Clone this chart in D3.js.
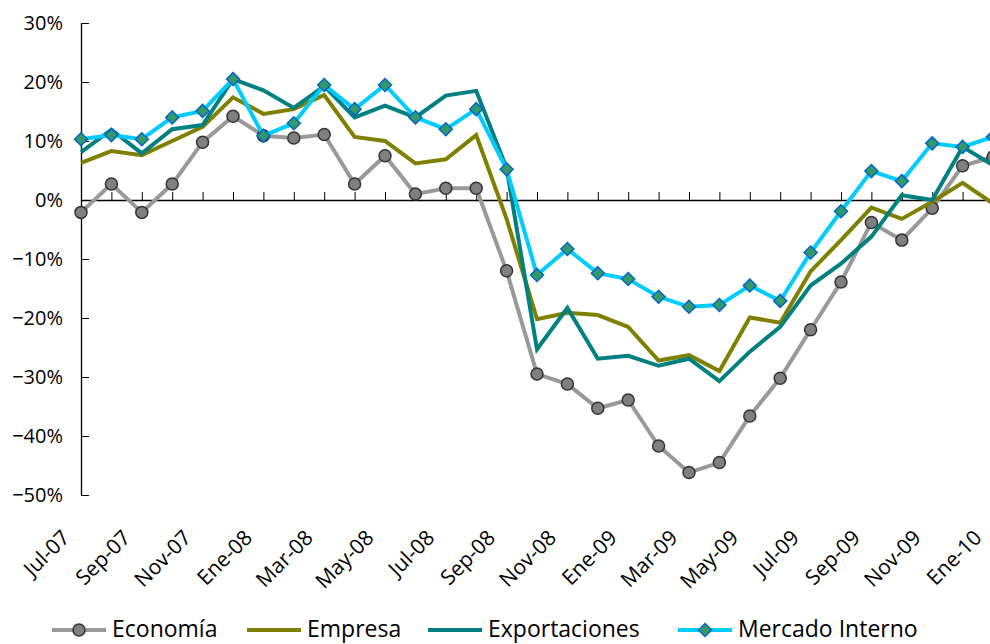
<!DOCTYPE html>
<html>
<head>
<meta charset="utf-8">
<script src="https://cdn.jsdelivr.net/npm/d3@7"></script>
<style>
  body { margin: 0; background: #fff; }
  svg { display: block; font-family: "Open Sans", sans-serif; }
</style>
</head>
<body>
<svg id="chart" width="990" height="644"></svg>
<script>
const months = [
  "Jul-07","Ago-07","Sep-07","Oct-07","Nov-07","Dic-07",
  "Ene-08","Feb-08","Mar-08","Abr-08","May-08","Jun-08",
  "Jul-08","Ago-08","Sep-08","Oct-08","Nov-08","Dic-08",
  "Ene-09","Feb-09","Mar-09","Abr-09","May-09","Jun-09",
  "Jul-09","Ago-09","Sep-09","Oct-09","Nov-09","Dic-09","Ene-10"
];

const economia = [
  -2.1, 2.7, -2.1, 2.7, 9.8, 14.2, 10.9, 10.5, 11.1, 2.7, 7.5, 1.0, 2.0, 2.0, -12.0,
  -29.5, -31.2, -35.3, -33.9, -41.7, -46.2, -44.5, -36.6, -30.2, -22.0, -13.9,
  -3.8, -6.8, -1.4, 5.8, 7.3
];
const empresa = [
  6.3, 8.3, 7.6, 10.0, 12.4, 17.4, 14.6, 15.4, 17.8, 10.7, 10.0, 6.2, 6.9, 11.0, -3.2,
  -20.2, -19.1, -19.5, -21.5, -27.2, -26.3, -29.0, -19.9, -20.8, -12.1, -6.8,
  -1.3, -3.2, -0.3, 2.9, -0.6
];
const exportaciones = [
  8.1, 11.9, 7.9, 12.0, 12.7, 20.5, 18.6, 15.6, 19.3, 14.0, 16.0, 14.0, 17.7, 18.5, 5.4,
  -25.3, -18.3, -26.9, -26.4, -28.1, -26.9, -30.7, -25.7, -21.5, -14.5, -10.8,
  -6.2, 0.8, 0.0, 9.0, 5.9
];
const mercadoInterno = [
  10.3, 11.0, 10.3, 14.0, 15.1, 20.5, 10.9, 13.0, 19.5, 15.4, 19.5, 14.0, 12.0, 15.4, 5.2,
  -12.7, -8.3, -12.4, -13.4, -16.4, -18.1, -17.8, -14.5, -17.1, -8.9, -1.9,
  4.9, 3.2, 9.6, 9.0, 10.7
];

const yTicks = [30, 20, 10, 0, -10, -20, -30, -40, -50];

const series = [
  { name: "Economía", values: economia, color: "#999999", marker: "circle" },
  { name: "Empresa", values: empresa, color: "#808000", marker: null },
  { name: "Exportaciones", values: exportaciones, color: "#008080", marker: null },
  { name: "Mercado Interno", values: mercadoInterno, color: "#00CCFF", marker: "diamond" }
];

const svg = d3.select("#chart");

const x = d3.scalePoint().domain(months).range([81, 993]);
const y = d3.scaleLinear().domain([-50, 30]).range([495, 23]);

const diamondPath = "M0,-6.5L6.5,0L0,6.5L-6.5,0Z";

// y axis, ticks pointing into the plot
const yAxis = svg.append("g")
  .attr("transform", "translate(81,0)")
  .call(d3.axisLeft(y)
    .tickValues(yTicks)
    .tickSizeInner(-8)
    .tickSizeOuter(0)
    .tickPadding(18)
    .tickFormat(d => (d < 0 ? "\u2212" + Math.abs(d) : d) + "%"));
yAxis.select(".domain").attr("stroke", "#000").attr("stroke-width", 1.3);
yAxis.selectAll(".tick line").attr("stroke", "#000");
yAxis.selectAll("text")
  .attr("fill", "#000")
  .style("font-size", "20px")
  .style("font-family", "'Open Sans', sans-serif");

// x axis on the zero line, ticks pointing up
const xAxis = svg.append("g")
  .attr("transform", `translate(0,${y(0)})`)
  .call(d3.axisBottom(x)
    .tickSizeInner(-8)
    .tickSizeOuter(0)
    .tickFormat(""));
xAxis.select(".domain").attr("stroke", "#000").attr("stroke-width", 1.3);
xAxis.selectAll(".tick line").attr("stroke", "#000");

// rotated month labels, every second month
svg.append("g")
  .selectAll("text")
  .data(months.filter((m, i) => i % 2 === 0))
  .join("text")
  .attr("transform", d => `translate(${x(d) - 10},539) rotate(-45)`)
  .attr("text-anchor", "end")
  .style("font-size", "21px")
  .attr("fill", "#000")
  .text(d => d);

// lines
const line = d3.line()
  .x((d, i) => x(months[i]))
  .y(d => y(d));

series.forEach(s => {
  svg.append("path")
    .datum(s.values)
    .attr("fill", "none")
    .attr("stroke", s.color)
    .attr("stroke-width", 4)
    .attr("stroke-linejoin", "miter")
    .attr("d", line);

  if (s.marker === "circle") {
    svg.append("g")
      .selectAll("circle")
      .data(s.values)
      .join("circle")
      .attr("cx", (d, i) => x(months[i]))
      .attr("cy", d => y(d))
      .attr("r", 6)
      .attr("fill", "#808080")
      .attr("stroke", "#333333")
      .attr("stroke-width", 1.5);
  } else if (s.marker === "diamond") {
    svg.append("g")
      .selectAll("path")
      .data(s.values)
      .join("path")
      .attr("transform", (d, i) => `translate(${x(months[i])},${y(d)})`)
      .attr("d", diamondPath)
      .attr("fill", "#339966")
      .attr("stroke", "#0066CC")
      .attr("stroke-width", 1.5);
  }
});

// legend
const legendX = [52, 247, 428, 678];
const legend = svg.append("g").attr("transform", "translate(0,630)");
series.forEach((s, i) => {
  const g = legend.append("g").attr("transform", `translate(${legendX[i]},0)`);
  g.append("line")
    .attr("x1", 0).attr("x2", 54)
    .attr("stroke", s.color)
    .attr("stroke-width", 4);
  if (s.marker === "circle") {
    g.append("circle")
      .attr("cx", 27).attr("r", 6)
      .attr("fill", "#808080")
      .attr("stroke", "#333333")
      .attr("stroke-width", 1.5);
  } else if (s.marker === "diamond") {
    g.append("path")
      .attr("transform", "translate(27,0)")
      .attr("d", diamondPath)
      .attr("fill", "#339966")
      .attr("stroke", "#0066CC")
      .attr("stroke-width", 1.5);
  }
  g.append("text")
    .attr("x", 60)
    .attr("y", 7)
    .style("font-size", "23px")
    .attr("fill", "#000")
    .text(s.name);
});
</script>
</body>
</html>
